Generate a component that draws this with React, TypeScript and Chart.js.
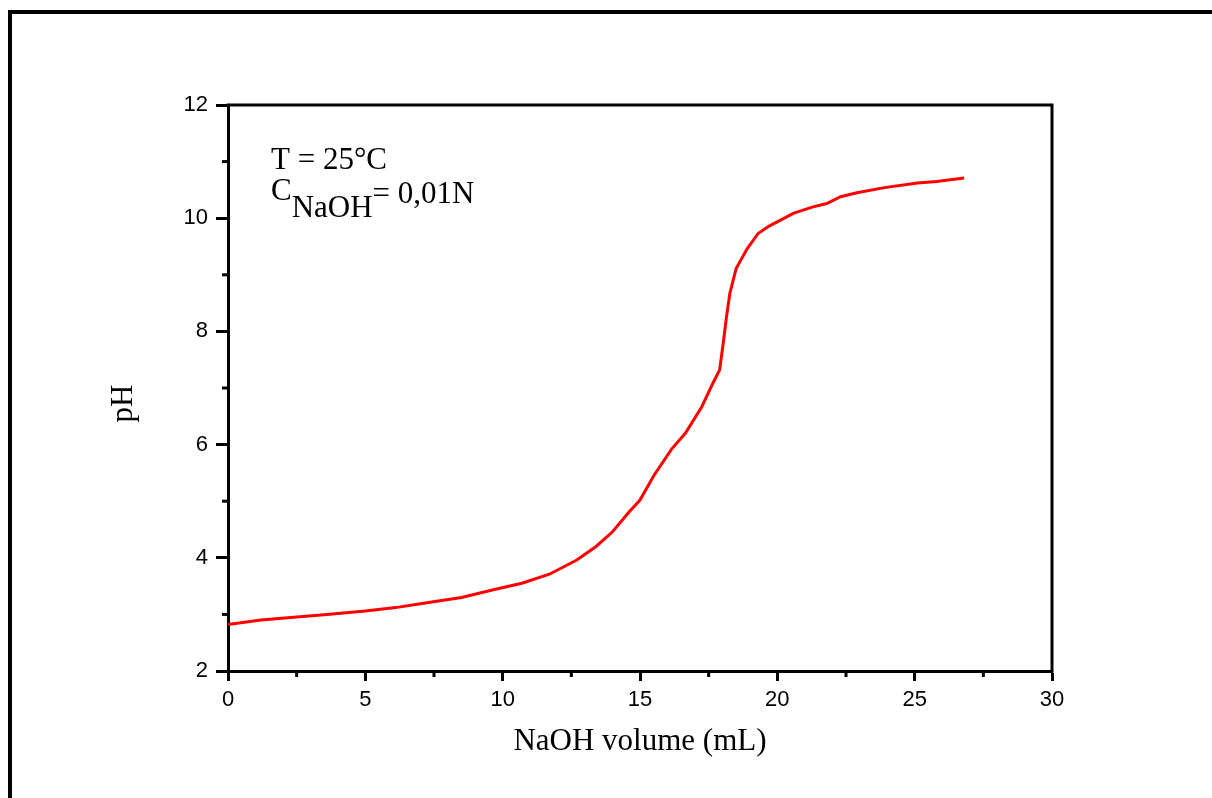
import React, { useEffect, useRef } from "react";
import { Chart, registerables } from "chart.js";

Chart.register(...registerables);

const volumeML = [0, 1.2, 2.4, 3.6, 5.0, 6.1, 7.3, 8.5, 9.7, 10.7, 11.7, 12.7, 13.4, 14.0, 14.6, 15.0, 15.5, 16.15, 16.65, 17.25, 17.65, 17.9, 18.03, 18.15, 18.27, 18.5, 18.9, 19.3, 19.7, 20.6, 21.3, 21.8, 22.3, 22.9, 23.9, 25.1, 25.8, 26.8];
const pHValues = [2.82, 2.90, 2.95, 3.00, 3.06, 3.12, 3.21, 3.30, 3.44, 3.55, 3.71, 3.96, 4.20, 4.46, 4.81, 5.02, 5.45, 5.92, 6.20, 6.67, 7.08, 7.32, 7.79, 8.26, 8.67, 9.11, 9.46, 9.73, 9.86, 10.09, 10.20, 10.26, 10.38, 10.45, 10.54, 10.62, 10.65, 10.71];

const xTitle = "NaOH volume (mL)";
const yTitle = "pH";
const noteLine1 = "T = 25°C";
const noteC = "C";
const noteSub = "NaOH";
const noteRest = "= 0,01N";

const SERIF = '"Liberation Serif", "Times New Roman", serif';
const SANS = '"Liberation Sans", Arial, sans-serif';

const decor = {
  id: "decor",
  afterDraw(chart: any) {
    const { ctx, chartArea: a, scales } = chart;
    ctx.save();
    ctx.fillStyle = "#000";
    ctx.fillRect(8, 10, chart.width, 4);
    ctx.fillRect(8, 10, 4, chart.height);

    ctx.strokeStyle = "#000";
    ctx.lineWidth = 3;
    ctx.beginPath();
    ctx.moveTo(a.left - 1.5, a.top);
    ctx.lineTo(a.right, a.top);
    ctx.lineTo(a.right, a.bottom + 1.5);
    ctx.stroke();

    ctx.lineWidth = 3;
    const xs = scales.x;
    const xt = xs.ticks.map((t: any) => t.value);
    for (let i = 0; i < xt.length - 1; i++) {
      const px = xs.getPixelForValue((xt[i] + xt[i + 1]) / 2);
      ctx.beginPath();
      ctx.moveTo(px, a.bottom);
      ctx.lineTo(px, a.bottom + 6);
      ctx.stroke();
    }
    const ys = scales.y;
    const yt = ys.ticks.map((t: any) => t.value);
    for (let i = 0; i < yt.length - 1; i++) {
      const py = ys.getPixelForValue((yt[i] + yt[i + 1]) / 2);
      ctx.beginPath();
      ctx.moveTo(a.left, py);
      ctx.lineTo(a.left - 6, py);
      ctx.stroke();
    }

    ctx.font = "31px " + SERIF;
    ctx.textBaseline = "alphabetic";
    ctx.textAlign = "left";
    const x0 = a.left + 43;
    ctx.fillText(noteLine1, x0, a.top + 64);
    ctx.fillText(noteC, x0, a.top + 95);
    const x1 = x0 + ctx.measureText(noteC).width;
    ctx.fillText(noteSub, x1, a.top + 112);
    const x2 = x1 + ctx.measureText(noteSub).width;
    ctx.fillText(noteRest, x2, a.top + 98);
    ctx.restore();
  },
};

export default function App() {
  const ref = useRef<HTMLCanvasElement | null>(null);
  useEffect(() => {
    if (!ref.current) return;
    const chart = new Chart(ref.current, {
      type: "scatter",
      data: {
        datasets: [
          {
            data: volumeML.map((v, i) => ({ x: v, y: pHValues[i] })),
            showLine: true,
            borderColor: "#ff0000",
            backgroundColor: "#ff0000",
            borderWidth: 3,
            pointRadius: 0,
            tension: 0,
          },
        ],
      },
      plugins: [decor],
      options: {
        responsive: false,
        animation: false,
        devicePixelRatio: 1,
        layout: { padding: { left: 0, top: 105, right: 160, bottom: 0 } },
        plugins: { legend: { display: false }, tooltip: { enabled: false } },
        scales: {
          x: {
            type: "linear",
            min: 0,
            max: 30,
            afterFit: (s: any) => {
              s.height = 127;
            },
            ticks: {
              stepSize: 5,
              color: "#000",
              padding: 6,
              font: { family: SANS, size: 22 },
            },
            grid: {
              drawOnChartArea: false,
              drawTicks: true,
              tickLength: 10,
              tickWidth: 3,
              tickColor: "#000",
            },
            border: { display: true, color: "#000", width: 3 },
            title: {
              display: true,
              text: xTitle,
              color: "#000",
              font: { family: SERIF, size: 31 },
              padding: { top: 0, bottom: 38 },
            },
          },
          y: {
            type: "linear",
            min: 2,
            max: 12,
            afterFit: (s: any) => {
              s.width = 228;
            },
            ticks: {
              stepSize: 2,
              color: "#000",
              padding: 8,
              font: { family: SANS, size: 22 },
            },
            grid: {
              drawOnChartArea: false,
              drawTicks: true,
              tickLength: 12,
              tickWidth: 3,
              tickColor: "#000",
            },
            border: { display: true, color: "#000", width: 3 },
            title: {
              display: true,
              text: yTitle + "    ",
              color: "#000",
              font: { family: SERIF, size: 31 },
              padding: { top: 105, bottom: 0 },
            },
          },
        },
      },
    });
    return () => chart.destroy();
  }, []);
  return (
    <div style={{ position: "fixed", left: 0, top: 0, width: 1212, height: 798, background: "#fff" }}>
      <canvas ref={ref} width={1212} height={798} style={{ display: "block" }} />
    </div>
  );
}
